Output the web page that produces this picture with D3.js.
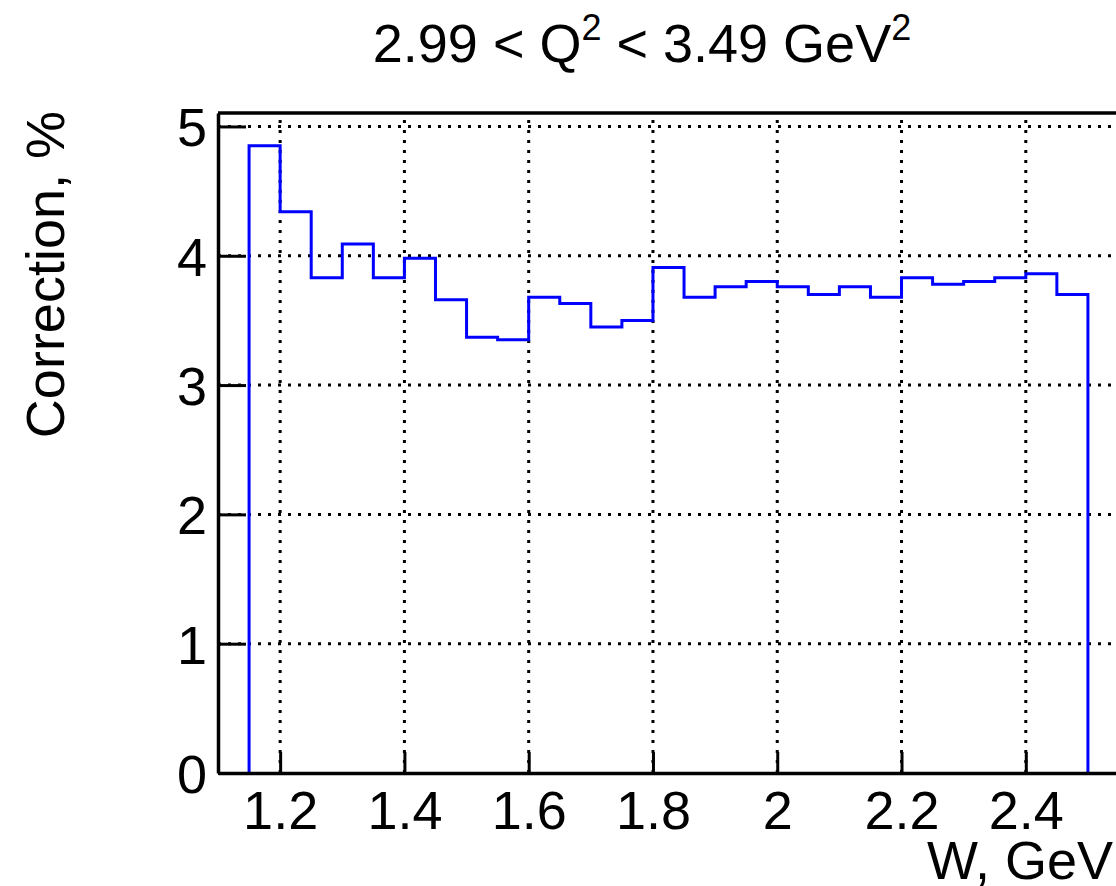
<!DOCTYPE html>
<html>
<head>
<meta charset="utf-8">
<title>Correction vs W</title>
<script src="https://cdn.jsdelivr.net/npm/d3@7/dist/d3.min.js"></script>
<style>
    html, body { margin: 0; padding: 0; background: #fff; }
    svg text { font-family: "Liberation Sans", Arial, Helvetica, sans-serif; fill: #000; }
</style>
</head>
<body>
<svg id="chart" width="1116" height="886"></svg>
<script>
    // bin edges and contents (W in GeV, correction in %)
    var binLow = [1.15, 1.20, 1.25, 1.30, 1.35, 1.40, 1.45, 1.50, 1.55, 1.60,
                  1.65, 1.70, 1.75, 1.80, 1.85, 1.90, 1.95, 2.00, 2.05, 2.10,
                  2.15, 2.20, 2.25, 2.30, 2.35, 2.40, 2.45];
    var binWidth = 0.05;
    var correction = [4.85, 4.34, 3.83, 4.09, 3.83, 3.98, 3.66, 3.37, 3.35, 3.68,
                      3.63, 3.45, 3.50, 3.91, 3.68, 3.76, 3.80, 3.76, 3.70, 3.76,
                      3.68, 3.83, 3.78, 3.80, 3.83, 3.86, 3.70];
    var xTicks = [1.2, 1.4, 1.6, 1.8, 2.0, 2.2, 2.4];
    var yTicks = [0, 1, 2, 3, 4, 5];

    var svg = d3.select("#chart");
    var padL = 218, padR = 1119, padT = 113, padB = 773;

    var x = d3.scaleLinear().domain([1.1, 2.55]).range([padL, padR]);
    var y = d3.scaleLinear().domain([0, 5.104]).range([padB, padT]);

    // grid
    var grid = svg.append("g")
        .attr("stroke", "#000")
        .attr("stroke-width", 3)
        .attr("stroke-dasharray", "3,7");
    grid.selectAll("line.gx").data(xTicks).enter().append("line")
        .attr("class", "gx")
        .attr("x1", function (d) { return x(d); })
        .attr("x2", function (d) { return x(d); })
        .attr("y1", padB).attr("y2", padT);
    grid.selectAll("line.gy").data(yTicks.slice(1)).enter().append("line")
        .attr("class", "gy")
        .attr("x1", padL).attr("x2", padR)
        .attr("y1", function (d) { return y(d); })
        .attr("y2", function (d) { return y(d); });

    // histogram outline
    var pts = [[binLow[0], 0]];
    correction.forEach(function (v, i) {
        pts.push([binLow[i], v]);
        pts.push([binLow[i] + binWidth, v]);
    });
    pts.push([binLow[binLow.length - 1] + binWidth, 0]);
    var line = d3.line()
        .x(function (d) { return x(d[0]); })
        .y(function (d) { return y(d[1]); });
    svg.append("path")
        .attr("d", line(pts))
        .attr("fill", "none")
        .attr("stroke", "#0000ff")
        .attr("stroke-width", 3);

    // axes
    var xAxis = d3.axisBottom(x).tickValues(xTicks).tickSizeInner(-21).tickSizeOuter(0)
        .tickFormat(d3.format("~g"));
    var gx = svg.append("g").attr("transform", "translate(0," + padB + ")").call(xAxis);
    var yAxis = d3.axisLeft(y).tickValues(yTicks).tickSizeInner(-28).tickSizeOuter(0)
        .tickFormat(d3.format("d"));
    var gy = svg.append("g").attr("transform", "translate(" + padL + ",0)").call(yAxis);

    [gx, gy].forEach(function (g) {
        g.select(".domain").attr("stroke", "#000").attr("stroke-width", 3.5);
        g.selectAll(".tick line").attr("stroke", "#000").attr("stroke-width", 3);
        g.selectAll(".tick text").attr("font-size", 54).attr("font-family", null);
    });
    gx.selectAll(".tick text").attr("dy", null).attr("y", 56);
    gy.selectAll(".tick text").attr("dy", "0.36em").attr("x", -11);

    // top frame line
    svg.append("line")
        .attr("x1", padL).attr("x2", padR)
        .attr("y1", padT).attr("y2", padT)
        .attr("stroke", "#000").attr("stroke-width", 3.5);

    // titles
    var title = svg.append("text")
        .attr("x", 642).attr("y", 62)
        .attr("text-anchor", "middle")
        .attr("font-size", 54);
    title.append("tspan").text("2.99 < Q");
    title.append("tspan").attr("font-size", 36).attr("dy", -22).text("2");
    title.append("tspan").attr("dy", 22).text(" < 3.49 GeV");
    title.append("tspan").attr("font-size", 36).attr("dy", -22).text("2");

    svg.append("text")
        .attr("x", 1113).attr("y", 879)
        .attr("text-anchor", "end")
        .attr("font-size", 54)
        .text("W, GeV");

    svg.append("text")
        .attr("transform", "translate(64,111) rotate(-90)")
        .attr("text-anchor", "end")
        .attr("font-size", 54)
        .text("Correction, %");
</script>
</body>
</html>
